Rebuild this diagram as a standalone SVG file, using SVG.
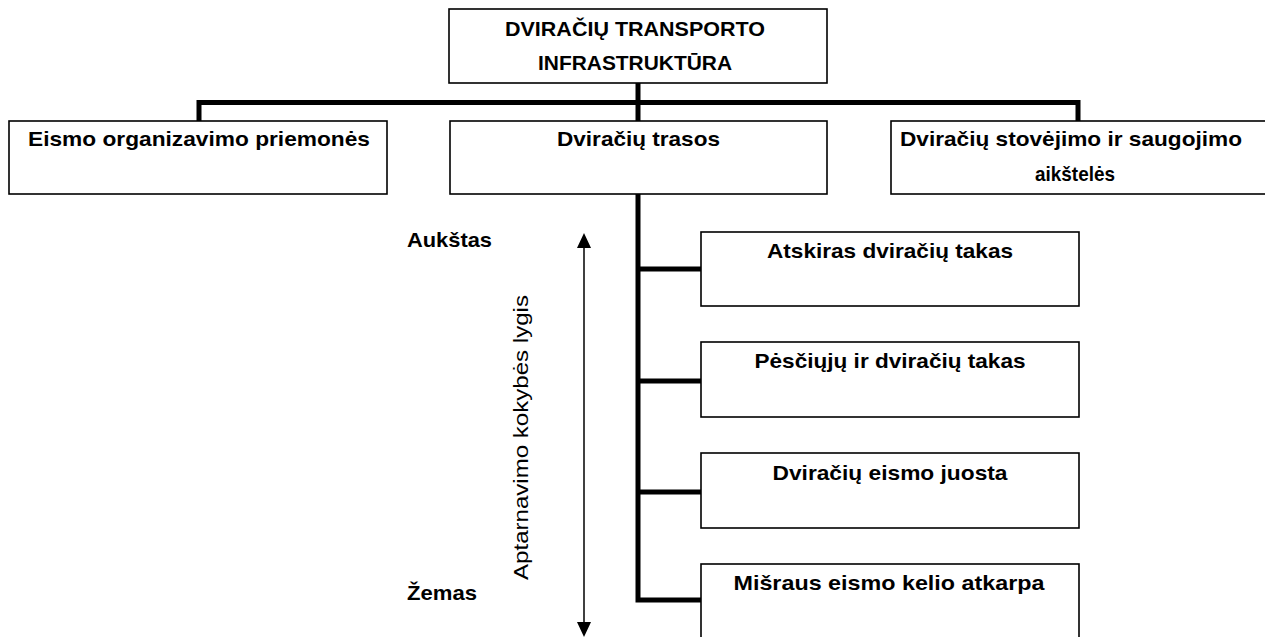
<svg xmlns="http://www.w3.org/2000/svg" width="1265" height="637" viewBox="0 0 1265 637">
<style>
.box{fill:#fff;stroke:#000;stroke-width:1.6}
.lbl{font-family:"Liberation Sans",Arial,sans-serif;font-weight:bold;font-size:21px;fill:#000;text-anchor:middle}
.side{font-family:"Liberation Sans",Arial,sans-serif;font-size:21px;fill:#000;text-anchor:middle}
.conn{fill:none;stroke:#000;stroke-width:5;stroke-linejoin:miter}
</style>
<defs>
<marker id="ah" viewBox="0 0 15 14" refX="10" refY="7" markerWidth="15" markerHeight="14" markerUnits="userSpaceOnUse" orient="auto-start-reverse">
<path d="M0,0 L15,7 L0,14 z" fill="#000"/>
</marker>
</defs>
<rect width="1265" height="637" fill="#fff"/>
<g id="connectors">
<path class="conn" d="M638,83 V121"/>
<path class="conn" d="M199,121 V102.5 H1078 V121"/>
<path class="conn" d="M638,194 V600 H701"/>
<path class="conn" d="M638,269 H701"/>
<path class="conn" d="M638,381 H701"/>
<path class="conn" d="M638,492 H701"/>
</g>
<g id="root">
<rect class="box" x="449" y="9" width="378" height="74"/>
<text class="lbl" x="635" y="36" textLength="260" lengthAdjust="spacingAndGlyphs">DVIRAČIŲ TRANSPORTO</text>
<text class="lbl" x="635" y="70" textLength="194" lengthAdjust="spacingAndGlyphs">INFRASTRUKTŪRA</text>
</g>
<g id="eismo">
<rect class="box" x="9" y="121" width="378" height="73"/>
<text class="lbl" x="199" y="146" textLength="342" lengthAdjust="spacingAndGlyphs">Eismo organizavimo priemonės</text>
</g>
<g id="trasos">
<rect class="box" x="450" y="121" width="377" height="73"/>
<text class="lbl" x="638.5" y="146" textLength="163" lengthAdjust="spacingAndGlyphs">Dviračių trasos</text>
</g>
<g id="stovejimo">
<rect class="box" x="891" y="121" width="380" height="73"/>
<text class="lbl" x="1071" y="146" textLength="342" lengthAdjust="spacingAndGlyphs">Dviračių stovėjimo ir saugojimo</text>
<text class="lbl" x="1075" y="181" textLength="80" lengthAdjust="spacingAndGlyphs">aikštelės</text>
</g>
<g id="atskiras">
<rect class="box" x="701" y="232" width="378" height="74"/>
<text class="lbl" x="890" y="258" textLength="246" lengthAdjust="spacingAndGlyphs">Atskiras dviračių takas</text>
</g>
<g id="pesciuju">
<rect class="box" x="701" y="342" width="378" height="75"/>
<text class="lbl" x="890" y="368" textLength="271" lengthAdjust="spacingAndGlyphs">Pėsčiųjų ir dviračių takas</text>
</g>
<g id="juosta">
<rect class="box" x="701" y="453" width="378" height="75"/>
<text class="lbl" x="890" y="480" textLength="235" lengthAdjust="spacingAndGlyphs">Dviračių eismo juosta</text>
</g>
<g id="misraus">
<rect class="box" x="701" y="564" width="378" height="80"/>
<text class="lbl" x="889" y="590" textLength="311" lengthAdjust="spacingAndGlyphs">Mišraus eismo kelio atkarpa</text>
</g>
<g id="scale">
<line x1="584" y1="238" x2="584" y2="632" stroke="#000" stroke-width="1.5" marker-start="url(#ah)" marker-end="url(#ah)"/>
<text class="lbl" x="449.5" y="247" textLength="85" lengthAdjust="spacingAndGlyphs">Aukštas</text>
<text class="lbl" x="442" y="600" textLength="70" lengthAdjust="spacingAndGlyphs">Žemas</text>
<text class="side" transform="translate(528,437.5) rotate(-90)" x="0" y="0" textLength="285" lengthAdjust="spacingAndGlyphs">Aptarnavimo kokybės lygis</text>
</g>
</svg>
